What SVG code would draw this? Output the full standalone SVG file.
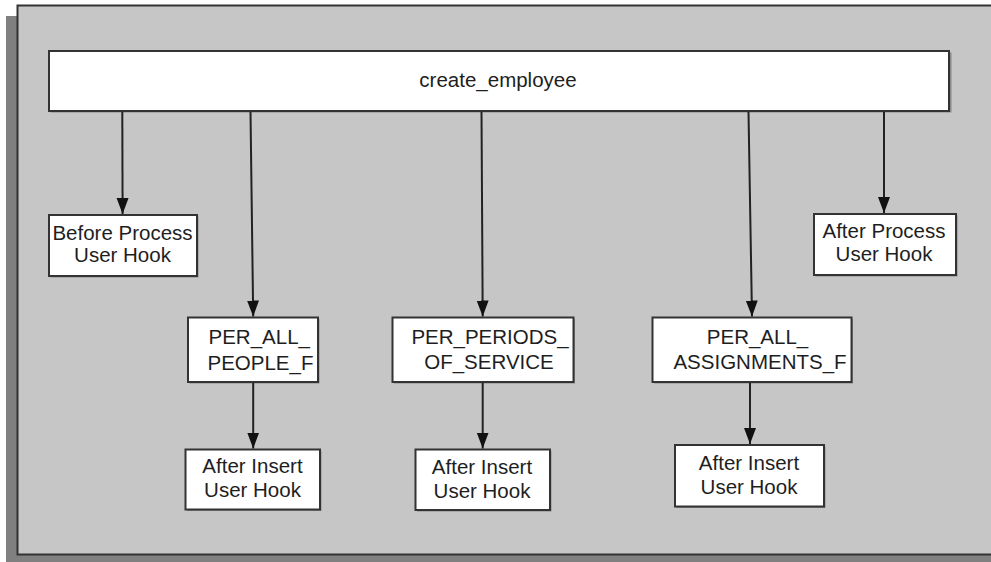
<svg xmlns="http://www.w3.org/2000/svg" width="991" height="562" viewBox="0 0 991 562">
<style>
.box{fill:#ffffff;stroke:#333333;stroke-width:2}
.sh{fill:#8a8a8a}
.t{font-family:"Liberation Sans",Arial,sans-serif;font-size:20.5px;fill:#1e1e1e;text-anchor:middle}
.ts{font-family:"Liberation Sans",Arial,sans-serif;font-size:20.5px;fill:#1e1e1e;text-anchor:start}
.c{stroke:#222222;stroke-width:2;fill:none;marker-end:url(#ah)}
</style>
<defs>
<marker id="ah" markerUnits="userSpaceOnUse" markerWidth="17" markerHeight="13" refX="16" refY="6" orient="auto">
<path d="M0,0 L16,6 L0,12 z" fill="#111111"/>
</marker>
</defs>
<g id="background">
<rect x="6" y="16" width="990" height="560" fill="#808080"/>
<rect x="17.5" y="5.5" width="980" height="549" fill="#c6c6c6" stroke="#333333" stroke-width="2"/>
</g>
<g id="create_employee">
<rect class="sh" x="50.5" y="52.5" width="901" height="60"/>
<rect class="box" x="49" y="51" width="900" height="60"/>
<text class="t" x="498" y="87">create_employee</text>
</g>
<g id="before_process">
<rect class="sh" x="50.5" y="216.5" width="148" height="61"/>
<rect class="box" x="49" y="215" width="148" height="61"/>
<text class="t" x="122.5" y="239.5">Before Process</text>
<text class="t" x="122.5" y="262">User Hook</text>
</g>
<g id="after_process">
<rect class="sh" x="815.5" y="215.5" width="142" height="61"/>
<rect class="box" x="814" y="214" width="142" height="61"/>
<text class="t" x="884" y="237.5">After Process</text>
<text class="t" x="884" y="261">User Hook</text>
</g>
<g id="per_all_people_f">
<rect class="sh" x="189.5" y="319" width="130" height="64.5"/>
<rect class="box" x="188" y="317.5" width="130" height="64.5"/>
<text class="ts" x="208.5" y="343.5">PER_ALL_</text>
<text class="ts" x="207.5" y="369.5">PEOPLE_F</text>
</g>
<g id="per_periods_of_service">
<rect class="sh" x="394" y="319" width="181" height="64.5"/>
<rect class="box" x="392.5" y="317.5" width="181" height="64.5"/>
<text class="t" x="490" y="344">PER_PERIODS_</text>
<text class="t" x="489" y="368.5">OF_SERVICE</text>
</g>
<g id="per_all_assignments_f">
<rect class="sh" x="654" y="319" width="199" height="64.5"/>
<rect class="box" x="652.5" y="317.5" width="199" height="64.5"/>
<text class="t" x="757.5" y="343.5">PER_ALL_</text>
<text class="t" x="760" y="368.5">ASSIGNMENTS_F</text>
</g>
<g id="after_insert_1">
<rect class="sh" x="187" y="451" width="134.5" height="60"/>
<rect class="box" x="185.5" y="449.5" width="134.5" height="60"/>
<text class="t" x="252.5" y="472.5">After Insert</text>
<text class="t" x="252.5" y="497">User Hook</text>
</g>
<g id="after_insert_2">
<rect class="sh" x="417" y="451" width="134.5" height="60.5"/>
<rect class="box" x="415.5" y="449.5" width="134.5" height="60.5"/>
<text class="t" x="482" y="473.5">After Insert</text>
<text class="t" x="482" y="498">User Hook</text>
</g>
<g id="after_insert_3">
<rect class="sh" x="676.5" y="446.5" width="149" height="61.5"/>
<rect class="box" x="675" y="445" width="149" height="61.5"/>
<text class="t" x="749" y="469.5">After Insert</text>
<text class="t" x="749" y="493.5">User Hook</text>
</g>
<g id="connectors">
<line class="c" x1="122.3" y1="112" x2="122.6" y2="214"/>
<line class="c" x1="250.5" y1="112" x2="253.2" y2="316.5"/>
<line class="c" x1="481.5" y1="112" x2="482.7" y2="316.5"/>
<line class="c" x1="748.5" y1="112" x2="752" y2="316.5"/>
<line class="c" x1="884" y1="112" x2="884" y2="213"/>
<line class="c" x1="253.2" y1="383" x2="253.2" y2="448.5"/>
<line class="c" x1="482.7" y1="383" x2="482.7" y2="448.5"/>
<line class="c" x1="750" y1="383" x2="750" y2="444"/>
</g>
</svg>
